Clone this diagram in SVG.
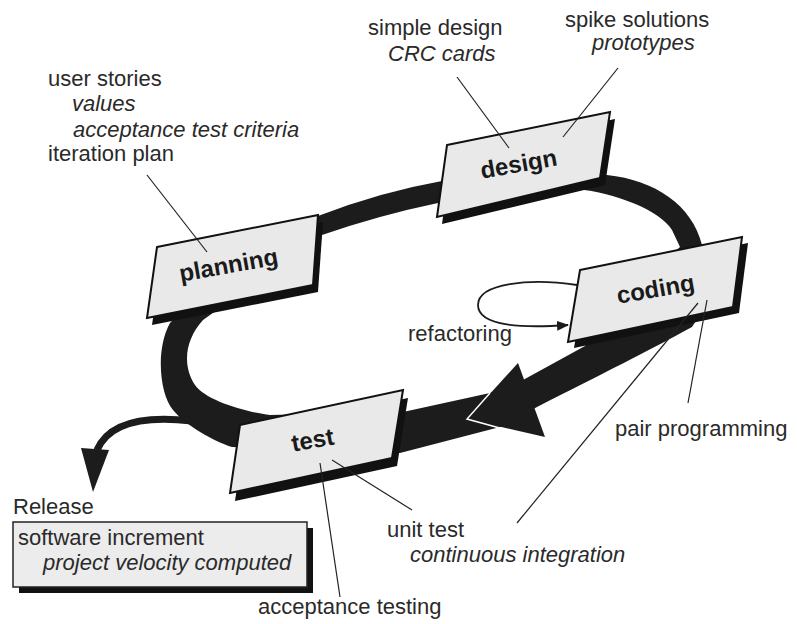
<svg xmlns="http://www.w3.org/2000/svg" width="797" height="624" viewBox="0 0 797 624">
<defs>
<style>
.lbl{font-family:"Liberation Sans",Arial,sans-serif;font-size:22px;fill:#2a2a2a}
.it{font-style:italic}
.box{fill:#e9e9e9;stroke:#111;stroke-width:2;stroke-linejoin:miter}
.shadow{fill:#111}
.name{font-family:"Liberation Sans",Arial,sans-serif;font-size:24px;font-weight:bold;fill:#1a1a1a;text-anchor:middle}
.lead{stroke:#222;stroke-width:1.2;fill:none}
.band{fill:#1c1c1c}
</style>
<marker id="ah" markerWidth="12" markerHeight="10" refX="11" refY="5" orient="auto" markerUnits="userSpaceOnUse">
<path d="M0,0 L12,5 L0,10 Z" fill="#1c1c1c"/>
</marker>
</defs>
<rect width="797" height="624" fill="#ffffff"/>

<g id="connectors">
<path class="band" fill-rule="evenodd" d="M318,216 Q380,192 442,181 L540,175 L607,175 C655,180 692,205 702,245 L716,290 L692,327 C650,350 600,375 537,407 L500,427 L400,453 L232,447 C215,442 185,425 173,410 C160,395 155,350 170,323 L250,240 Z M322,235 Q380,215 438,203 L577,189 C615,193 660,210 672,230 L680,247 L620,300 L585,346 L523,380 L490,393 L403,412 L270,415 C245,412 205,400 195,385 C182,365 185,340 203,320 Z"/>
<polygon class="band" points="518,363 467,419 545,437"/>
<polyline points="490,393 467,419 507,430" fill="none" stroke="#ffffff" stroke-width="1.5"/>
<path d="M192,421 C150,416 110,420 97,450" fill="none" stroke="#1c1c1c" stroke-width="7"/>
<polygon class="band" points="81,448 109,450 93,492"/>
<path d="M577,285 C530,278 478,283 478,305 C478,327 525,328 568,325" fill="none" stroke="#1c1c1c" stroke-width="1.8" marker-end="url(#ah)"/>
</g>

<g id="planning">
<polygon class="shadow" points="162,254 323,222 318,292 152,325"/>
<polygon class="box" points="157,247 318,215 313,285 147,318"/>
<text class="name" transform="translate(230,273) rotate(-10)">planning</text>
</g>

<g id="design">
<polygon class="shadow" points="452,152 615,119 605,185 442,224"/>
<polygon class="box" points="447,145 610,112 600,178 437,217"/>
<text class="name" transform="translate(520,172) rotate(-10)">design</text>
</g>

<g id="coding">
<polygon class="shadow" points="586,276 748,243 739,313 574,348"/>
<polygon class="box" points="580,270 742,237 733,307 568,342"/>
<text class="name" transform="translate(657,297) rotate(-10)">coding</text>
</g>

<g id="test">
<polygon class="shadow" points="245,433 408,398 397,466 235,501"/>
<polygon class="box" points="240,425 403,390 392,458 230,493"/>
<text class="name" transform="translate(314,448) rotate(-10)">test</text>
</g>

<g id="release">
<text class="lbl" x="13" y="514">Release</text>
<rect class="shadow" x="19" y="528" width="294" height="65"/>
<rect x="13" y="522" width="294" height="65" fill="#ececec" stroke="#222" stroke-width="1.5"/>
<text class="lbl" x="18" y="545">software increment</text>
<text class="lbl it" x="43" y="570">project velocity computed</text>
</g>

<g id="leaders">
<line class="lead" x1="147" y1="175" x2="207" y2="252"/>
<line class="lead" x1="457" y1="77" x2="509" y2="148"/>
<line class="lead" x1="618" y1="68" x2="563" y2="137"/>
<line class="lead" x1="707" y1="300" x2="688" y2="403"/>
<line class="lead" x1="698" y1="303" x2="517" y2="523"/>
<line class="lead" x1="332" y1="460" x2="412" y2="510"/>
<line class="lead" x1="320" y1="463" x2="340" y2="597"/>
</g>

<g id="planning-notes">
<text class="lbl" x="48" y="86">user stories</text>
<text class="lbl it" x="72" y="111">values</text>
<text class="lbl it" x="73" y="137">acceptance test criteria</text>
<text class="lbl" x="48" y="161">iteration plan</text>
</g>
<g id="design-notes">
<text class="lbl" x="368" y="35">simple design</text>
<text class="lbl it" x="388" y="61">CRC cards</text>
<text class="lbl" x="565" y="27">spike solutions</text>
<text class="lbl it" x="592" y="50">prototypes</text>
</g>
<g id="coding-notes">
<text class="lbl" x="408" y="341">refactoring</text>
<text class="lbl" x="615" y="436">pair programming</text>
</g>
<g id="test-notes">
<text class="lbl" x="387" y="537">unit test</text>
<text class="lbl it" x="410" y="562">continuous integration</text>
<text class="lbl" x="258" y="614">acceptance testing</text>
</g>
</svg>
